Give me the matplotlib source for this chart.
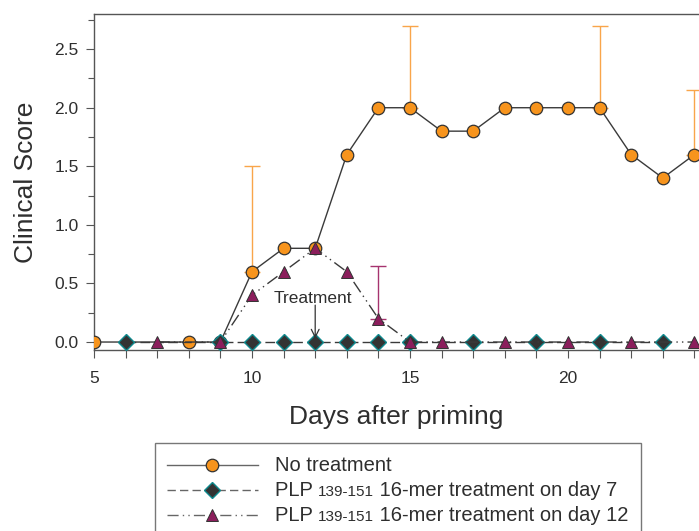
import matplotlib
matplotlib.use("Agg")
import matplotlib.pyplot as plt
from matplotlib.lines import Line2D
from matplotlib.patches import Rectangle
from matplotlib.ticker import MultipleLocator, FixedLocator

plt.rcParams['font.family'] = ['Liberation Sans', 'DejaVu Sans']

# ---- data ----
days_none = [5, 8, 9, 10, 11, 12, 13, 14, 15, 16, 17, 18, 19, 20, 21, 22, 23, 24]
score_none = [0, 0, 0, 0.6, 0.8, 0.8, 1.6, 2.0, 2.0, 1.8, 1.8, 2.0, 2.0, 2.0, 2.0, 1.6, 1.4, 1.6]
err_days_none = [10, 15, 21, 24]
err_vals_none = [0.9, 0.7, 0.7, 0.55]

days_d7 = [6, 9, 10, 11, 12, 13, 14, 15, 17, 19, 21, 23]
score_d7 = [0] * len(days_d7)

days_d12 = [7, 9, 10, 11, 12, 13, 14, 15, 16, 18, 20, 22, 24]
score_d12 = [0, 0, 0.4, 0.6, 0.8, 0.6, 0.2, 0, 0, 0, 0, 0, 0]
err_days_d12 = [14]
err_vals_d12 = [0.45]

treatment_day = 12

labels = ["No treatment",
          ("PLP ", "139-151", " 16-mer treatment on day 7"),
          ("PLP ", "139-151", " 16-mer treatment on day 12")]

ORANGE = "#F7941D"
ORANGE_ERR = "#F9A54A"
PURPLE = "#8B1E5C"
PURPLE_ERR = "#A6336F"
DARK = "#333333"
TEAL = "#0E8A8E"
LINE = "#3a3a3a"
TXT = "#2e2e2e"

fig = plt.figure(figsize=(6.99, 5.31), dpi=100)
ax = fig.add_axes([94/699, 1-350/531, 1-94/699, (350-14)/531])

# error bars (upper only)
ax.errorbar(err_days_none, [score_none[days_none.index(d)] for d in err_days_none],
            yerr=[[0]*len(err_vals_none), err_vals_none], fmt='none',
            ecolor=ORANGE_ERR, elinewidth=1.0, capsize=6, capthick=1.0, zorder=1)
ax.errorbar(err_days_d12, [score_d12[days_d12.index(d)] for d in err_days_d12],
            yerr=[[0]*len(err_vals_d12), err_vals_d12], fmt='none',
            ecolor=PURPLE_ERR, elinewidth=1.0, capsize=6, capthick=1.0, zorder=1)

ax.plot(days_none, score_none, '-', color=LINE, lw=1.0, marker='o', ms=9,
        mfc=ORANGE, mec=DARK, mew=0.9, zorder=3)
ax.plot(days_d7, score_d7, color=LINE, lw=1.0, dashes=(7, 3), marker='D', ms=8,
        mfc=DARK, mec=TEAL, mew=1.0, zorder=4)
ax.plot(days_d12, score_d12, color=LINE, lw=1.0, dashes=(9, 3, 1, 3, 1, 3), marker='^', ms=9,
        mfc=PURPLE, mec=DARK, mew=0.7, zorder=5)

ax.set_xlim(5, 5 + (699-94)/31.6)
ax.set_ylim(-0.068, 2.8)

ax.spines['right'].set_visible(False)
for s in ['left', 'top', 'bottom']:
    ax.spines[s].set_color('#555555')
    ax.spines[s].set_linewidth(1.0)

ax.xaxis.set_major_locator(FixedLocator([5, 10, 15, 20]))
ax.xaxis.set_minor_locator(MultipleLocator(1))
ax.yaxis.set_major_locator(MultipleLocator(0.5))
ax.yaxis.set_minor_locator(MultipleLocator(0.25))
ax.yaxis.set_major_formatter(matplotlib.ticker.FormatStrFormatter('%.1f'))
ax.tick_params(axis='both', which='major', length=6, width=0.8, color='#555555',
               labelsize=12.5, labelcolor=TXT, direction='out')
ax.tick_params(axis='both', which='minor', length=4, width=0.8, color='#555555', direction='out')
ax.tick_params(axis='x', which='both', length=6, pad=9)
ax.tick_params(axis='y', which='major', pad=5)

ax.set_xlabel("Days after priming", fontsize=19, color=TXT, labelpad=14)
ax.set_ylabel("Clinical Score", fontsize=19, color=TXT, labelpad=12)

# Treatment annotation
ax.text(treatment_day - 0.08, 0.375, "Treatment", ha='center', va='center',
        fontsize=12.5, color=TXT, zorder=6)
ax.annotate("", xy=(treatment_day, 0.03), xytext=(treatment_day, 0.315),
            arrowprops=dict(arrowstyle='->', color='#333333', lw=0.9,
                            shrinkA=0, shrinkB=0, mutation_scale=14), zorder=6)

# ---- legend (manual box in figure pixels) ----
W, H = 699, 531
def fx(x): return x / W
def fy(y): return 1 - y / H

fig.patches.append(Rectangle((fx(155), fy(545)), fx(641) - fx(155), fy(443) - fy(545),
                             transform=fig.transFigure, fill=False, ec='#777777', lw=1.0))
rows_y = [465, 490, 515]
styles = [dict(ls='-', marker='o', ms=9, mfc=ORANGE, mec=DARK, mew=0.9),
          dict(dashes=(6, 3), marker='D', ms=8, mfc=DARK, mec=TEAL, mew=1.0),
          dict(dashes=(8, 3, 1, 3, 1, 3), marker='^', ms=9, mfc=PURPLE, mec=DARK, mew=0.7)]
for y, st in zip(rows_y, styles):
    fig.lines.append(Line2D([fx(167), fx(258)], [fy(y), fy(y)], transform=fig.transFigure,
                            color='#666666', lw=1.0, **{k: v for k, v in st.items() if k not in ('marker','ms','mfc','mec','mew')}))
    fig.lines.append(Line2D([fx(212)], [fy(y)], transform=fig.transFigure, ls='none',
                            marker=st['marker'], ms=st['ms'], mfc=st['mfc'], mec=st['mec'], mew=st['mew']))

renderer = fig.canvas.get_renderer()
for y, lab in zip(rows_y, labels):
    x = 275
    parts = [(lab, 14.5)] if isinstance(lab, str) else [(lab[0], 14.5), (lab[1], 11), (lab[2], 14.5)]
    for txt, sz in parts:
        t = fig.text(fx(x), fy(y + 6), txt, fontsize=sz, color=TXT, ha='left', va='baseline')
        bb = t.get_window_extent(renderer)
        x += bb.width

fig.savefig("out.png", dpi=100)
